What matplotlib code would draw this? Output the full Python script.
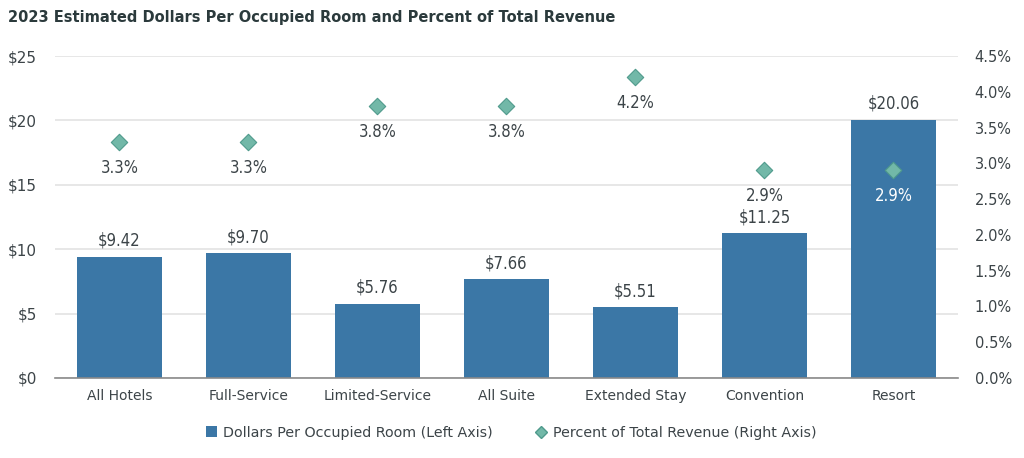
import matplotlib
matplotlib.use("Agg")
import matplotlib.pyplot as plt
from matplotlib.lines import Line2D
from matplotlib.patches import Patch
from matplotlib.ticker import FuncFormatter, MultipleLocator

categories = ["All Hotels", "Full-Service", "Limited-Service", "All Suite",
              "Extended Stay", "Convention", "Resort"]
dollars = [9.42, 9.70, 5.76, 7.66, 5.51, 11.25, 20.06]
percent = [3.3, 3.3, 3.8, 3.8, 4.2, 2.9, 2.9]

bar_color = "#3b77a6"
diamond_color = "#72b8a8"
diamond_edge = "#4f9a8c"
text_color = "#3c4448"
title_color = "#2b3a3c"

fig = plt.figure(figsize=(10.24, 4.58), dpi=100)
ax = fig.add_axes([0.0537, 0.1747, 0.8818, 0.703])
ax2 = ax.twinx()

x = list(range(len(categories)))
ax.bar(x, dollars, width=0.66, color=bar_color, zorder=2)
ax.set_xlim(-0.5, len(categories) - 0.5)
ax.set_ylim(0, 25)
ax.yaxis.set_major_locator(MultipleLocator(5))
ax.yaxis.set_major_formatter(FuncFormatter(lambda v, p: f"${v:.0f}"))
ax.grid(axis="y", color="#e3e3e3", linewidth=1.2, zorder=0)
ax.set_axisbelow(True)
for s in ["top", "right", "left"]:
    ax.spines[s].set_visible(False)
ax.spines["bottom"].set_color("#8a8a8a")
ax.spines["bottom"].set_linewidth(1.2)
ax.tick_params(axis="x", length=0, labelsize=10, colors=text_color, pad=8)
ax.tick_params(axis="y", length=0, labelsize=11, colors=text_color, pad=13)
ax.set_xticks(x)
ax.set_xticklabels(categories)

for xi, v in zip(x, dollars):
    ax.annotate(f"${v:.2f}", (xi, v), xytext=(0, 5), textcoords="offset points",
                ha="center", va="bottom", fontsize=12, color=text_color,
                family="DejaVu Sans", fontstretch="condensed")

ax2.set_ylim(0, 4.5)
ax2.yaxis.set_major_locator(MultipleLocator(0.5))
ax2.yaxis.set_major_formatter(FuncFormatter(lambda v, p: f"{v:.1f}%"))
for s in ["top", "right", "left", "bottom"]:
    ax2.spines[s].set_visible(False)
ax2.tick_params(axis="y", length=0, labelsize=10.5, colors=text_color, pad=12)
ax2.scatter(x, percent, marker="D", s=70, color=diamond_color,
            edgecolor=diamond_edge, linewidth=0.8, zorder=3)
for xi, v, d in zip(x, percent, dollars):
    inside = d / 25 * 4.5 > v
    ax2.annotate(f"{v:.1f}%", (xi, v), xytext=(0, -12), textcoords="offset points",
                 ha="center", va="top", fontsize=12,
                 color="white" if inside else text_color,
                 family="DejaVu Sans", fontstretch="condensed")

fig.text(0.008, 0.962, "2023 Estimated Dollars Per Occupied Room and Percent of Total Revenue",
         fontsize=10.5, fontweight="bold", color=title_color, ha="left", va="center")

handles = [Patch(facecolor=bar_color, label="Dollars Per Occupied Room (Left Axis)"),
           Line2D([], [], marker="D", linestyle="none", markersize=6,
                  markerfacecolor=diamond_color, markeredgecolor=diamond_edge,
                  label="Percent of Total Revenue (Right Axis)")]
fig.legend(handles=handles, loc="center", bbox_to_anchor=(0.499, 0.055), ncol=2,
           frameon=False, fontsize=10.3, labelcolor=text_color,
           handlelength=0.8, handleheight=0.8, handletextpad=0.4, columnspacing=3.0)

fig.savefig("out.png", dpi=100)
